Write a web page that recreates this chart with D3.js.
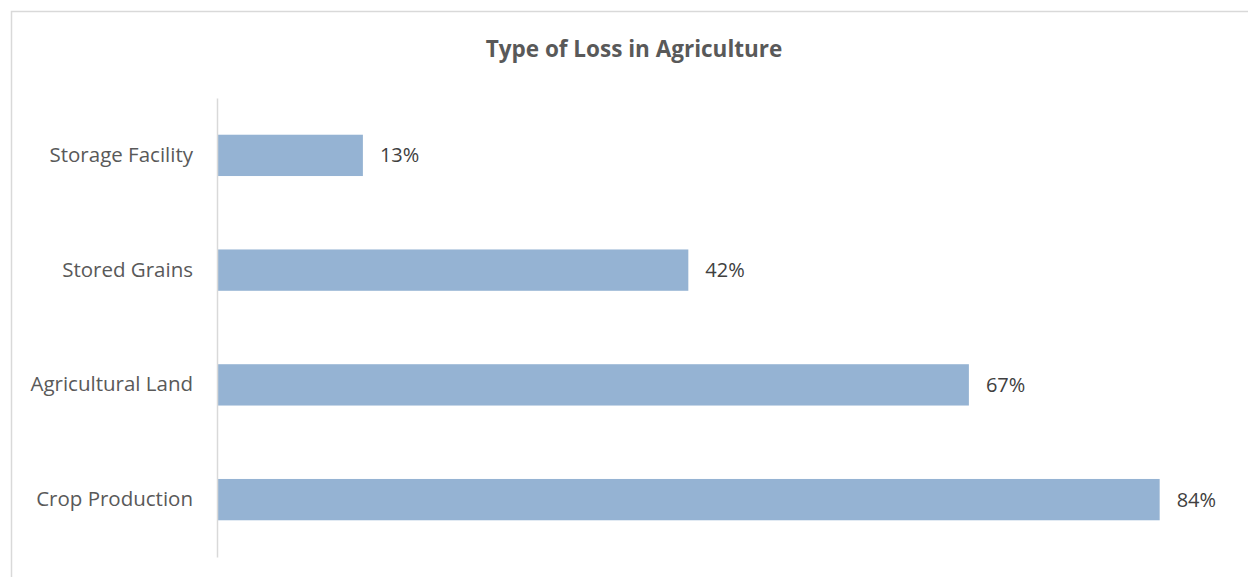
<!DOCTYPE html>
<html>
<head>
<meta charset="utf-8">
<script src="https://cdn.jsdelivr.net/npm/d3@7"></script>
<style>
  html, body { margin: 0; padding: 0; background: #ffffff; }
  svg { display: block; }
</style>
</head>
<body>
<svg id="chart" width="1248" height="577"></svg>
<script>
// Share of respondents reporting each type of agricultural loss
const categories = ["Storage Facility", "Stored Grains", "Agricultural Land", "Crop Production"];
const values = [0.13, 0.42, 0.67, 0.84];
const title = "Type of Loss in Agriculture";

const svg = d3.select("#chart");
const W = 1248, H = 577;
const font = "'Open Sans', Lato, sans-serif";

// chart area frame
svg.append("rect")
  .attr("x", 11.5).attr("y", 11.5)
  .attr("width", W + 20).attr("height", H + 20)
  .attr("fill", "#ffffff")
  .attr("stroke", "#d9d9d9").attr("stroke-width", 1.5);

const plot = { left: 217, right: 1227, top: 98, bottom: 557 };

const x = d3.scaleLinear().domain([0, 0.9]).range([plot.left, plot.right]);
const y = d3.scaleBand().domain(categories).range([plot.top, plot.bottom]).paddingInner(0.64).paddingOuter(0.32);

// title
svg.append("text")
  .attr("x", 634).attr("y", 57)
  .attr("text-anchor", "middle")
  .attr("font-family", font).attr("font-weight", "bold")
  .attr("font-size", 22.5).attr("fill", "#595959")
  .text(title);

// bars
svg.append("g").selectAll("rect")
  .data(categories)
  .join("rect")
  .attr("x", x(0))
  .attr("y", d => y(d))
  .attr("width", (d, i) => x(values[i]) - x(0))
  .attr("height", y.bandwidth())
  .attr("fill", "#95b3d3");

// value labels
svg.append("g").selectAll("text")
  .data(categories)
  .join("text")
  .attr("x", (d, i) => x(values[i]) + 17)
  .attr("y", d => y(d) + y.bandwidth() / 2)
  .attr("dy", "0.35em")
  .attr("font-family", font).attr("font-size", 20)
  .attr("fill", "#404040")
  .text((d, i) => d3.format(".0%")(values[i]));

// category axis
const yAxis = d3.axisLeft(y).tickSize(0).tickPadding(24);
const ag = svg.append("g").attr("transform", `translate(${plot.left},0)`).call(yAxis);
ag.select(".domain").attr("stroke", "#d9d9d9").attr("stroke-width", 1.5);
ag.selectAll(".tick text")
  .attr("font-family", font).attr("font-size", 20.5)
  .attr("fill", "#595959");
</script>
</body>
</html>
